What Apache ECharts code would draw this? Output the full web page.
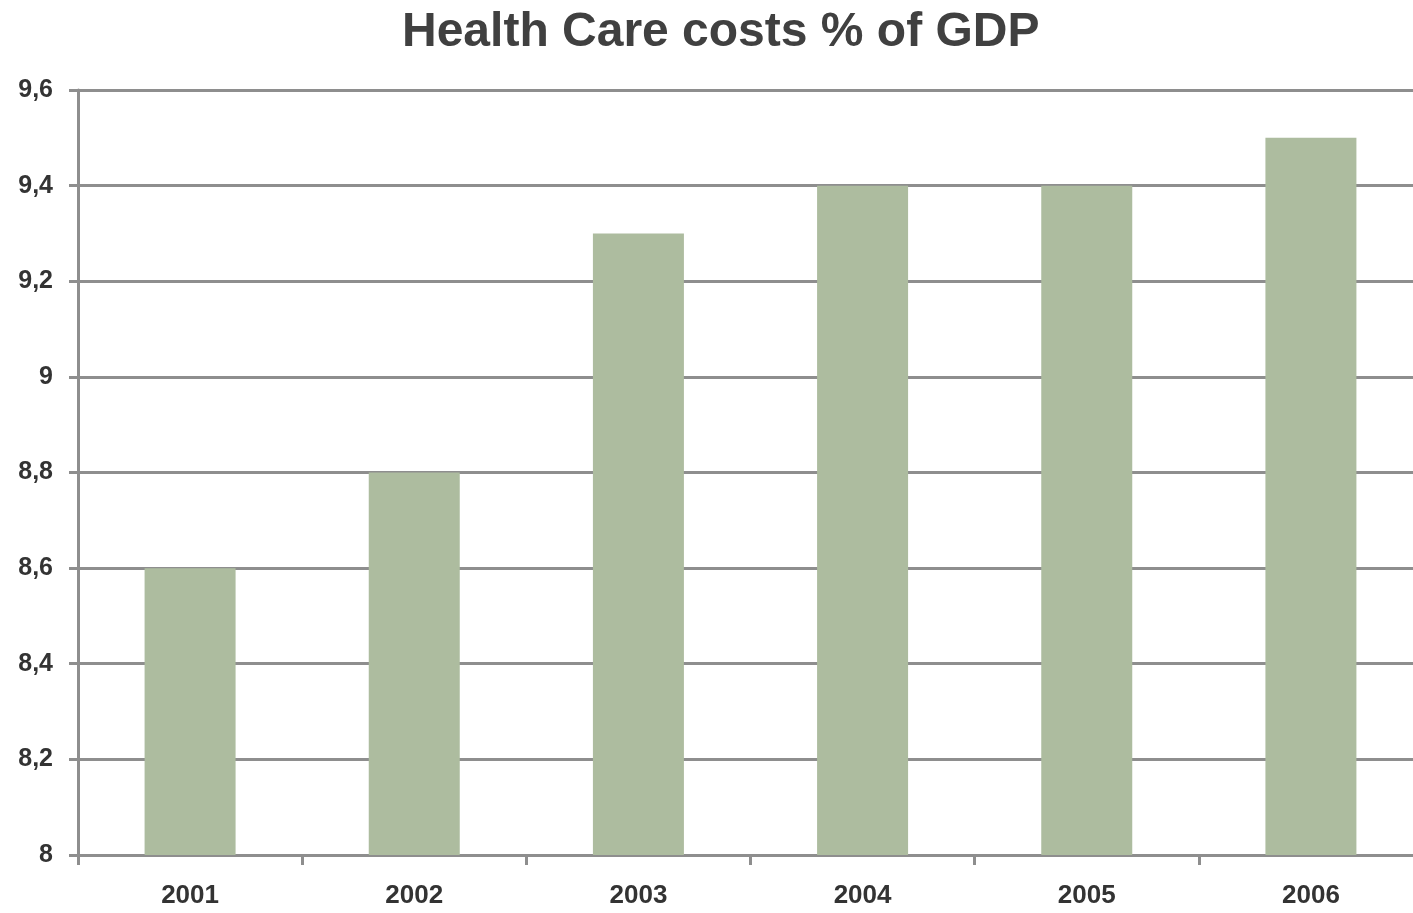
<!DOCTYPE html>
<html><head><meta charset="utf-8">
<script src="https://cdn.jsdelivr.net/npm/echarts@6/dist/echarts.min.js"></script>
<style>html,body{margin:0;padding:0;background:#fff;overflow:hidden}#c{width:1423px;height:913px}</style>
</head><body><div id="c"></div>
<script>
const categories = ['2001','2002','2003','2004','2005','2006'];
const values = [8.6, 8.8, 9.3, 9.4, 9.4, 9.5];
const titleText = 'Health Care costs % of GDP';

const chart = echarts.init(document.getElementById('c'));
chart.setOption({
  animation: false,
  backgroundColor: '#fff',
  title: {
    text: titleText, left: 397, top: 4,
    textStyle: {fontFamily: 'Liberation Sans, Arial', fontWeight: 'bold', fontSize: 48, color: '#404040'}
  },
  grid: {left: 78, top: 90, right: 0, bottom: 58, containLabel: false},
  xAxis: {
    type: 'category', data: categories,
    axisLine: {lineStyle: {color: '#8e8e8e', width: 3}},
    axisTick: {show: true, alignWithLabel: false, length: 10, lineStyle: {color: '#8e8e8e', width: 3}},
    axisLabel: {margin: 28, fontFamily: 'Liberation Sans, Arial', fontWeight: 'bold', fontSize: 26, color: '#333'},
    splitLine: {show: false}
  },
  yAxis: {
    type: 'value', min: 8, max: 9.6, interval: 0.2,
    axisLine: {show: true, lineStyle: {color: '#8e8e8e', width: 3}},
    axisTick: {show: true, length: 9, lineStyle: {color: '#8e8e8e', width: 3}},
    axisLabel: {margin: 25, fontFamily: 'Liberation Sans, Arial', fontWeight: 'bold', fontSize: 25, color: '#333',
      formatter: v => String(Math.round(v*10)/10).replace('.', ',')},
    splitLine: {show: true, lineStyle: {color: '#8e8e8e', width: 3}}
  },
  series: [{
    type: 'bar', data: values, barWidth: 91,
    itemStyle: {color: '#adbc9f'}
  }]
});
</script></body></html>
